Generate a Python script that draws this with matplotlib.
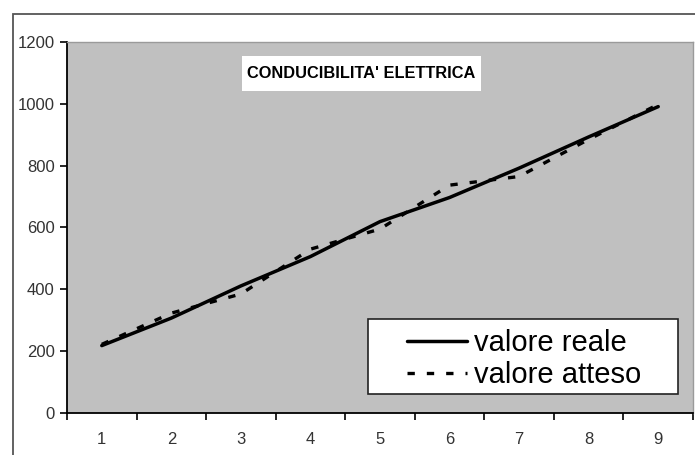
import matplotlib
matplotlib.use("Agg")
import matplotlib.pyplot as plt
from matplotlib.patches import Rectangle

plt.rcParams["font.family"] = ["Liberation Sans", "DejaVu Sans"]

# Data
categories = [1, 2, 3, 4, 5, 6, 7, 8, 9]
valore_reale = [218, 307, 411, 506, 619, 697, 792, 893, 991]
valore_atteso = [222, 323, 385, 530, 595, 737, 765, 885, 998]
y_ticks = [0, 200, 400, 600, 800, 1000, 1200]

W, H = 695, 455
fig = plt.figure(figsize=(W / 100, H / 100), dpi=100)
fig.patch.set_facecolor("white")

# outer chart frame (runs off the right and bottom edges)
fig.patches.append(Rectangle((13 / W, -0.05), 1.2, 1.05 - 14 / H,
                             transform=fig.transFigure, fill=False,
                             edgecolor="#555555", linewidth=1.3, clip_on=False))

ax = fig.add_axes([67 / W, (H - 413) / H, 626 / W, 371 / H])
ax.set_facecolor("#c0c0c0")

ax.plot(categories, valore_reale, color="black", lw=2.5,
        solid_joinstyle="round", solid_capstyle="round", label="valore reale")
ax.plot(categories, valore_atteso, color="black", lw=2.4,
        dashes=(2.2, 3.6), label="valore atteso")

ax.set_xlim(0.5, 9.5)
ax.set_ylim(0, 1200)
ax.set_yticks(y_ticks)
ax.set_xticks(categories)
ax.set_xticks([c - 0.5 for c in categories] + [9.5], minor=True)
ax.tick_params(axis="x", which="major", length=0, pad=14)
ax.tick_params(axis="x", which="minor", length=5, width=1.2, color="black")
ax.tick_params(axis="y", length=5, width=1.2, pad=4)
ax.tick_params(labelsize=12, labelcolor="#333333")

for s in ["left", "bottom"]:
    ax.spines[s].set_color("black")
    ax.spines[s].set_linewidth(1.3)
for s in ["top", "right"]:
    ax.spines[s].set_color("#9a9a9a")
    ax.spines[s].set_linewidth(1.0)

# title box
ax.add_patch(Rectangle((0.2796, 0.868), 0.3814, 0.094, transform=ax.transAxes,
                       facecolor="white", edgecolor="none", zorder=4))
ax.text(0.47, 0.914, "CONDUCIBILITA' ELETTRICA", transform=ax.transAxes,
        ha="center", va="center", fontsize=11.8, fontweight="bold", zorder=5)

# legend frame + legend
ax.add_patch(Rectangle((0.481, 0.051), 0.495, 0.202, transform=ax.transAxes,
                       facecolor="white", edgecolor="#222222", linewidth=1.2,
                       zorder=4))
leg = ax.legend(loc="upper left", bbox_to_anchor=(0.543, 0.227), frameon=False,
                fontsize=21, borderpad=0, borderaxespad=0, handlelength=2.05,
                handletextpad=0.25, labelspacing=0.15)
leg.set_zorder(6)

fig.savefig("out.png", dpi=100)
